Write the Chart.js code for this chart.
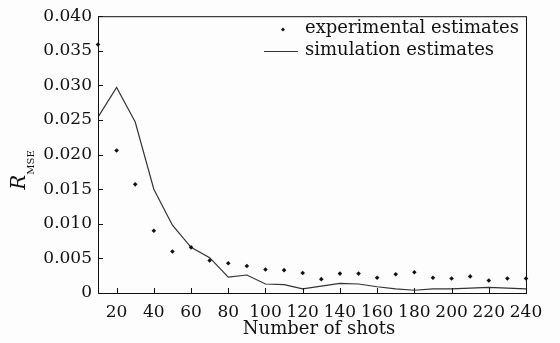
<!DOCTYPE html>
<html>
<head>
<meta charset="utf-8">
<script src="https://cdn.jsdelivr.net/npm/chart.js@4/dist/chart.umd.min.js"></script>
<style>
  html, body { margin: 0; padding: 0; background: #fdfdfd; }
  #wrap { width: 560px; height: 343px; }
</style>
</head>
<body>
<div id="wrap"><canvas id="chart" width="560" height="343"></canvas></div>
<script>
const shots = [10, 20, 30, 40, 50, 60, 70, 80, 90, 100, 110, 120, 130, 140, 150, 160, 170, 180, 190, 200, 210, 220, 230, 240];
const experimental = [0.0359, 0.0206, 0.0157, 0.0090, 0.0060, 0.0066, 0.0047, 0.0043, 0.0039, 0.0034, 0.0033, 0.0029, 0.0020, 0.0028, 0.0028, 0.0022, 0.0027, 0.0030, 0.0022, 0.0021, 0.0024, 0.0018, 0.0021, 0.0021];
const simulation = [0.0254, 0.0297, 0.0247, 0.0150, 0.0098, 0.0066, 0.0051, 0.0023, 0.0026, 0.0013, 0.0012, 0.0006, 0.0010, 0.0014, 0.0013, 0.0009, 0.0006, 0.0004, 0.0006, 0.0006, 0.0007, 0.0008, 0.0007, 0.0006];
const xTicks = [20, 40, 60, 80, 100, 120, 140, 160, 180, 200, 220, 240];

const serif = '"DejaVu Serif", "Liberation Serif", serif';
const ink = '#111';

// inward tick marks, frame, axis titles and legend
const decor = {
  id: 'decor',
  afterDraw(chart) {
    const { ctx, chartArea: a, scales } = chart;
    ctx.save();
    ctx.strokeStyle = ink;
    ctx.lineWidth = 1;
    ctx.strokeRect(a.left + 0.5, a.top + 0.5, a.right - a.left, a.bottom - a.top);
    ctx.beginPath();
    scales.x.ticks.forEach(t => {
      const px = Math.round(scales.x.getPixelForValue(t.value)) + 0.5;
      ctx.moveTo(px, a.bottom);
      ctx.lineTo(px, a.bottom - 5);
    });
    scales.y.ticks.forEach(t => {
      const py = Math.round(scales.y.getPixelForValue(t.value)) + 0.5;
      ctx.moveTo(a.left, py);
      ctx.lineTo(a.left + 5, py);
    });
    ctx.stroke();

    ctx.fillStyle = ink;
    // x title
    ctx.font = '18px ' + serif;
    ctx.textAlign = 'center';
    ctx.textBaseline = 'alphabetic';
    ctx.fillText('Number of shots', 319, 334);
    ctx.textAlign = 'left';

    // y title: italic R with MSE subscript
    ctx.translate(25, 170);
    ctx.rotate(-Math.PI / 2);
    ctx.font = 'italic 20px ' + serif;
    const rw = ctx.measureText('R').width;
    const sub = 'MSE';
    ctx.font = '10px ' + serif;
    const sw = ctx.measureText(sub).width;
    const x0 = -(rw + sw) / 2;
    ctx.font = 'italic 20px ' + serif;
    ctx.fillText('R', x0, 0);
    ctx.font = '10px ' + serif;
    ctx.fillText(sub, x0 + rw, 9);
    ctx.setTransform(1, 0, 0, 1, 0, 0);

    // legend
    ctx.font = '18px ' + serif;
    ctx.textBaseline = 'middle';
    const lx = 305;
    ctx.fillText(chart.data.datasets[0].label, lx, 28);
    ctx.fillText(chart.data.datasets[1].label, lx, 50);
    ctx.beginPath();
    ctx.moveTo(283, 27.5); ctx.lineTo(285, 29.5); ctx.lineTo(283, 31.5); ctx.lineTo(281, 29.5);
    ctx.closePath();
    ctx.fill();
    ctx.beginPath();
    ctx.strokeStyle = '#333';
    ctx.lineWidth = 1.2;
    ctx.moveTo(264, 51.5); ctx.lineTo(298, 51.5);
    ctx.stroke();
    ctx.restore();
  }
};

new Chart(document.getElementById('chart'), {
  type: 'line',
  data: {
    datasets: [
      {
        label: 'experimental estimates',
        data: shots.map((s, i) => ({ x: s, y: experimental[i] })),
        showLine: false,
        clip: false,
        pointStyle: 'rectRot',
        pointRadius: 2.3,
        pointBackgroundColor: ink,
        pointBorderColor: ink,
        pointBorderWidth: 0
      },
      {
        label: 'simulation estimates',
        data: shots.map((s, i) => ({ x: s, y: simulation[i] })),
        borderColor: '#333',
        borderWidth: 1.2,
        pointRadius: 0,
        tension: 0,
        fill: false
      }
    ]
  },
  options: {
    responsive: false,
    animation: false,
    layout: { padding: { top: 14, right: 34, left: 0, bottom: 0 } },
    plugins: { legend: { display: false }, tooltip: { enabled: false } },
    scales: {
      x: {
        type: 'linear',
        min: 10,
        max: 240,
        afterBuildTicks: s => { s.ticks = xTicks.map(v => ({ value: v })); },
        afterFit: s => { s.height = 50; },
        grid: { display: false, drawTicks: false },
        border: { display: false },
        ticks: { color: ink, font: { family: serif, size: 17 }, padding: 9, maxRotation: 0, autoSkip: false }
      },
      y: {
        min: 0,
        max: 0.04,
        afterFit: s => { s.width = 98; },
        grid: { display: false, drawTicks: false },
        border: { display: false },
        ticks: {
          stepSize: 0.005,
          color: ink,
          font: { family: serif, size: 17 },
          padding: 6,
          callback: v => v === 0 ? '0' : v.toFixed(3)
        }
      }
    }
  },
  plugins: [decor]
});
</script>
</body>
</html>
